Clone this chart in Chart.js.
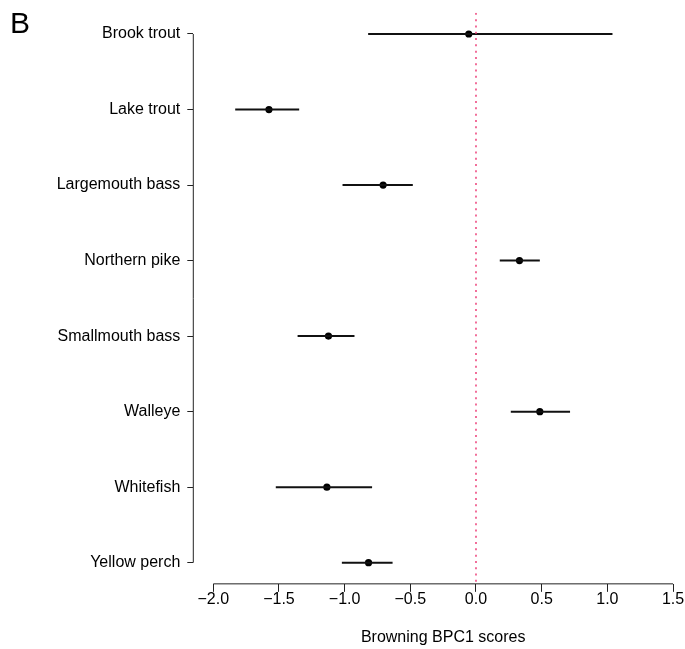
<!DOCTYPE html>
<html lang="en">
<head>
<meta charset="UTF-8" />
<title>Browning BPC1 scores</title>
<script src="https://cdn.jsdelivr.net/npm/chart.js"></script>
<style>
  html, body { margin: 0; padding: 0; background: #fff; overflow: hidden; }
</style>
</head>
<body>
<canvas id="chart" width="693" height="649"></canvas>
<script>
// species, top to bottom
const categories = ["Brook trout", "Lake trout", "Largemouth bass", "Northern pike",
  "Smallmouth bass", "Walleye", "Whitefish", "Yellow perch"];
const estimates = [-0.055, -1.576, -0.707, 0.331, -1.123, 0.486, -1.135, -0.818];
const lower = [-0.821, -1.833, -1.016, 0.181, -1.358, 0.265, -1.524, -1.021];
const upper = [1.039, -1.346, -0.481, 0.486, -0.925, 0.716, -0.791, -0.635];
const xTicks = [-2.0, -1.5, -1.0, -0.5, 0.0, 0.5, 1.0, 1.5];
const refX = 0;

const FONT = "'Liberation Sans', Arial, Helvetica, sans-serif";
const yMin = 0.72, yMax = 8.28;

const barSets = categories.map((c, i) => ({
  type: "line",
  data: [{ x: lower[i], y: i + 1 }, { x: upper[i], y: i + 1 }],
  borderColor: "#111",
  borderWidth: 2,
  pointRadius: 0,
  fill: false
}));

// axis lines only between first and last tick, R style; plus panel letter
const rAxes = {
  id: "rAxes",
  afterDraw(chart) {
    const { ctx, chartArea, scales } = chart;
    ctx.save();
    ctx.strokeStyle = "#222";
    ctx.lineWidth = 1;
    ctx.beginPath();
    ctx.moveTo(chartArea.left, scales.y.getPixelForValue(1));
    ctx.lineTo(chartArea.left, scales.y.getPixelForValue(categories.length));
    ctx.moveTo(scales.x.getPixelForValue(xTicks[0]), chartArea.bottom);
    ctx.lineTo(scales.x.getPixelForValue(xTicks[xTicks.length - 1]), chartArea.bottom);
    ctx.stroke();
    ctx.fillStyle = "#000";
    ctx.font = "30px " + FONT;
    ctx.textBaseline = "alphabetic";
    ctx.fillText("B", 10, 33);
    ctx.restore();
  }
};

new Chart(document.getElementById("chart"), {
  type: "scatter",
  data: {
    datasets: [
      {
        type: "line",
        data: [{ x: refX, y: yMin }, { x: refX, y: yMax }],
        borderColor: "#ee4a80",
        borderWidth: 1.6,
        borderDash: [2, 4.3],
        pointRadius: 0,
        fill: false
      },
      ...barSets,
      {
        data: estimates.map((v, i) => ({ x: v, y: i + 1 })),
        backgroundColor: "#000",
        borderColor: "#000",
        pointRadius: 3.6,
        borderWidth: 0
      }
    ]
  },
  options: {
    responsive: false,
    animation: false,
    layout: { autoPadding: false, padding: { top: 12.85, left: 0, right: 0, bottom: 0 } },
    plugins: { legend: { display: false }, tooltip: { enabled: false } },
    scales: {
      x: {
        type: "linear",
        min: -2.152,
        max: 1.652,
        afterBuildTicks: s => { s.ticks = xTicks.map(v => ({ value: v })); },
        afterFit: s => { s.height = 65.15; s.paddingLeft = 0; s.paddingRight = 0; },
        border: { display: false },
        grid: { drawOnChartArea: false, drawTicks: true, tickLength: 8, color: "#222" },
        ticks: {
          color: "#000",
          font: { family: FONT, size: 16 },
          padding: -2,
          maxRotation: 0,
          autoSkip: false,
          callback: v => v.toFixed(1).replace("-", "\u2212")
        },
        title: {
          display: true,
          text: "Browning BPC1 scores",
          color: "#000",
          font: { family: FONT, size: 16 },
          padding: { top: 0, bottom: 2 }
        }
      },
      y: {
        type: "linear",
        reverse: true,
        min: yMin,
        max: yMax,
        afterBuildTicks: s => { s.ticks = categories.map((c, i) => ({ value: i + 1 })); },
        afterFit: s => { s.width = 193.3; s.paddingTop = 0; s.paddingBottom = 0; },
        border: { display: false },
        grid: { drawOnChartArea: false, drawTicks: true, tickLength: 6, color: "#222" },
        ticks: {
          color: "#000",
          font: { family: FONT, size: 16 },
          padding: 7,
          autoSkip: false,
          callback: v => categories[Math.round(v) - 1]
        }
      }
    }
  },
  plugins: [rAxes]
});
</script>
</body>
</html>
